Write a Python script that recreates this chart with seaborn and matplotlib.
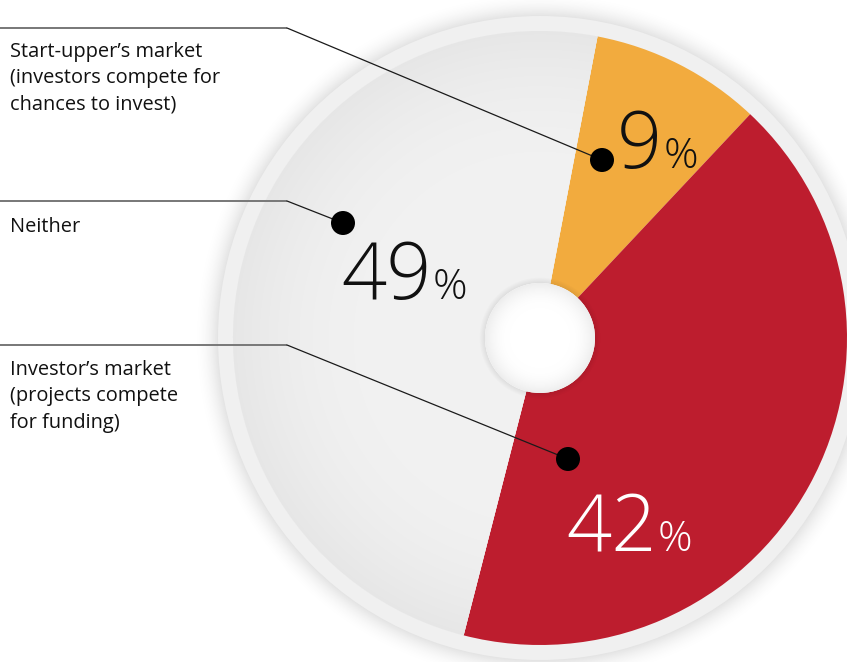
import numpy as np
import matplotlib
matplotlib.use("Agg")
import matplotlib.pyplot as plt
from matplotlib.patches import Circle
import seaborn as sns

# --- data -----------------------------------------------------------------
categories = ["Start-upper\u2019s market\n(investors compete for\nchances to invest)",
              "Investor\u2019s market\n(projects compete\nfor funding)",
              "Neither"]
shares = [9, 42, 49]
slice_colors = ["#F2AB3E", "#BD1D2E", "#EFEFEF"]
value_colors = ["#111111", "#FFFFFF", "#111111"]

# --- layout (pixel coordinates, y measured from the top) ------------------
W, H = 847, 662
CX, CY = 540, 338
R_PIE, R_RING, R_HOLE = 307, 322, 55
label_pos = [(10, 42), (10, 360), (10, 217)]
line_y = [28, 345, 201]
bend_x = 287
dot_pos = [(602, 160), (568, 459), (343, 223)]
value_pos = [(617, 168), (566, 551), (341, 299)]

sns.set_theme(style="white")
plt.rcParams["font.family"] = ["Open Sans", "DejaVu Sans"]

fig = plt.figure(figsize=(W / 100, H / 100), dpi=100)
ax = fig.add_axes([0, 0, 1, 1])
ax.set_xlim(0, W)
ax.set_ylim(0, H)
ax.axis("off")


def Y(py):
    return H - py


cy = Y(CY)
xx, yy = np.meshgrid(np.arange(W) + 0.5, np.arange(H) + 0.5)
rr = np.hypot(xx - CX, yy - cy)

# soft drop shadow around the outer ring
shadow = np.zeros((H, W, 4))
t = np.clip((rr - R_RING) / 24.0, 0, 1)
shadow[..., :3] = 0.55
shadow[..., 3] = np.where(rr >= R_RING - 1, 0.24 * (1 - t) ** 2, 0)
ax.imshow(shadow, extent=(0, W, 0, H), origin="lower", zorder=0, aspect="auto")

ax.add_patch(Circle((CX, cy), R_RING, color="#F0F0F0", zorder=1, lw=0))

wedges, _ = ax.pie(shares, colors=slice_colors, startangle=79.2,
                   counterclock=False, radius=R_PIE, center=(CX, cy),
                   wedgeprops=dict(linewidth=0))
for w in wedges:
    w.set_zorder(2)

# radial shading on the neutral slice
g = np.clip((rr - 170) / (R_PIE - 170), 0, 1)
shade = 0.946 - 0.042 * g ** 1.8
gray_img = np.dstack([shade, shade, shade])
im = ax.imshow(gray_img, extent=(0, W, 0, H), origin="lower", zorder=3, aspect="auto")
im.set_clip_path(wedges[2])

# shadow cast by the centre disc
hs = np.zeros((H, W, 4))
th = np.clip((rr - R_HOLE) / 6.0, 0, 1)
hs[..., 3] = np.where(rr >= R_HOLE - 1, 0.08 * (1 - th), 0)
ax.imshow(hs, extent=(0, W, 0, H), origin="lower", zorder=4, aspect="auto")

# centre disc with a soft rim
hole_patch = Circle((CX, cy), R_HOLE, color="white", lw=0, zorder=5)
ax.add_patch(hole_patch)
h = np.clip((rr - 30) / (R_HOLE - 30), 0, 1)
hv = 1.0 - 0.07 * h ** 2
hole_img = np.dstack([hv, hv, hv])
im3 = ax.imshow(hole_img, extent=(0, W, 0, H), origin="lower", zorder=6, aspect="auto")
im3.set_clip_path(hole_patch)

ax.set_xlim(0, W)
ax.set_ylim(0, H)
ax.set_aspect("auto")

# leader lines, dots and category labels
for cat, (lx, ly), yl, (dx, dy) in zip(categories, label_pos, line_y, dot_pos):
    ax.plot([0, bend_x], [Y(yl), Y(yl)], color="#777777", lw=1.4,
            solid_capstyle="butt", zorder=7)
    ax.plot([bend_x, dx], [Y(yl), Y(dy)], color="#1A1A1A", lw=0.9, zorder=7)
    ax.add_patch(Circle((dx, Y(dy)), 12, color="black", lw=0, zorder=8))
    ax.text(lx, Y(ly), cat, ha="left", va="top", fontsize=14.4,
            color="#111111", linespacing=1.42, zorder=8)

# percentage values
renderer = fig.canvas.get_renderer()
for v, (px, py), c in zip(shares, value_pos, value_colors):
    num = ax.text(px, Y(py), f"{v}", ha="left", va="baseline", fontsize=57,
                  fontweight="light", color=c, zorder=9)
    bb = num.get_window_extent(renderer=renderer)
    x_right = ax.transData.inverted().transform((bb.x1, bb.y0))[0]
    ax.text(x_right + 1, Y(py), "%", ha="left", va="baseline",
            fontsize=31, fontweight="light", color=c, zorder=9)

fig.savefig("out.png", dpi=100)
